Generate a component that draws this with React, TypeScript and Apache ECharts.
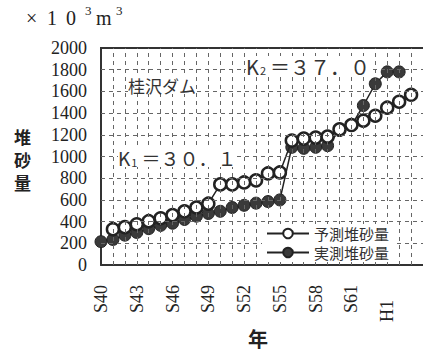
import React, { useEffect, useRef } from "react";
import * as echarts from "echarts";

const years = [
  "S40", "S41", "S42", "S43", "S44", "S45", "S46", "S47", "S48", "S49",
  "S50", "S51", "S52", "S53", "S54", "S55", "S56", "S57", "S58", "S59",
  "S60", "S61", "S62", "S63", "H1", "H2", "H3",
];
const predicted = [
  null, 330, 349, 376, 404, 431, 460, 495, 530, 565,
  743, 743, 761, 780, 844, 853, 1147, 1165, 1174, 1183,
  1250, 1290, 1330, 1376, 1450, 1505, 1569,
];
const measured = [
  215, 235, 275, 300, 335, 365, 385, 420, 450, 475,
  495, 530, 550, 570, 585, 600, 1085, 1075, 1085, 1100,
  1240, 1285, 1470, 1670, 1780, 1780, null,
];
const yTicks = [200, 400, 600, 800, 1000, 1200, 1400, 1600, 1800];
const seriesNames = ["予測堆砂量", "実測堆砂量"];

const SERIF = "'Liberation Serif', 'DejaVu Serif', serif";
const JP = "'Noto Sans CJK JP', sans-serif";

export default function App() {
  const ref = useRef<HTMLDivElement>(null);
  useEffect(() => {
    if (!ref.current) return;
    const chart = echarts.init(ref.current, null, { renderer: "svg" });
    const toPairs = (arr: (number | null)[]) =>
      arr.map((v, i) => [i, v]).filter((p) => p[1] !== null);
    const gridMarks = [
      ...yTicks.map((v) => ({ yAxis: v })),
      ...years.map((_, i) => ({ xAxis: i })).filter((d) => d.xAxis > 0),
    ];
    chart.setOption({
      animation: false,
      backgroundColor: "#fff",
      grid: {
        left: 101,
        top: 48,
        bottom: 91,
        width: 330,
        show: false,
      },
      xAxis: {
        type: "value",
        min: 0,
        max: 27,
        interval: 1,
        axisLine: { show: true, onZero: false, lineStyle: { color: "#333", width: 2 } },
        axisTick: { show: false },
        splitLine: { show: false },
        axisLabel: {
          rotate: 90,
          margin: 20,
          color: "#222",
          fontFamily: SERIF,
          fontSize: 18,
          formatter: (v: number) => {
            if (v % 3 !== 0 || !years[v]) return "";
            return years[v].startsWith("H") ? "{h|" + years[v] + "}" : years[v];
          },
          rich: {
            h: {
              fontFamily: SERIF,
              fontSize: 18,
              color: "#222",
              padding: [0, 15, 0, 0],
            },
          },
        },
      },
      yAxis: {
        type: "value",
        min: 0,
        max: 2000,
        interval: 200,
        axisLine: { show: true, lineStyle: { color: "#333", width: 2 } },
        axisTick: { show: false },
        splitLine: { show: false },
        axisLabel: {
          margin: 14,
          color: "#222",
          fontFamily: SERIF,
          fontSize: 18,
          formatter: (v: number) => String(v),
        },
      },
      legend: {
        data: seriesNames,
        orient: "vertical",
        left: 262,
        top: 224,
        z: 20,
        itemWidth: 42,
        itemHeight: 12,
        itemGap: 4,
        padding: [2, 4],
        backgroundColor: "#fff",
        textStyle: { fontFamily: JP, fontSize: 15, color: "#333" },
      },
      series: [
        {
          name: "grid",
          type: "line",
          data: [],
          z: 1,
          silent: true,
          markLine: {
            silent: true,
            symbol: ["none", "none"],
            label: { show: false },
            lineStyle: { color: "#666", width: 1, type: [4, 4], opacity: 1 },
            emphasis: { disabled: true },
            data: gridMarks,
          },
        },
        {
          name: seriesNames[1],
          type: "line",
          data: toPairs(measured),
          symbol: "circle",
          symbolSize: 12,
          lineStyle: { color: "#222", width: 1.5 },
          itemStyle: { color: "#3a3a3a", borderColor: "#222", borderWidth: 1 },
          z: 2,
        },
        {
          name: seriesNames[0],
          type: "line",
          data: toPairs(predicted),
          symbol: "circle",
          symbolSize: 12,
          lineStyle: { color: "#222", width: 1.5 },
          itemStyle: { color: "#fff", borderColor: "#222", borderWidth: 2.5 },
          z: 3,
        },
      ],
      graphic: [
        {
          type: "line",
          silent: true,
          shape: { x1: 100, y1: 48, x2: 423, y2: 48 },
          style: { stroke: "#333", lineWidth: 2 },
        },
        { type: "text", left: 26, top: 8, style: { text: "×", font: "20px " + SERIF, fill: "#222" } },
        { type: "text", left: 47, top: 8, style: { text: "1", font: "20px " + SERIF, fill: "#222" } },
        { type: "text", left: 66, top: 8, style: { text: "0", font: "20px " + SERIF, fill: "#222" } },
        { type: "text", left: 85, top: 4, style: { text: "3", font: "13px " + SERIF, fill: "#222" } },
        { type: "text", left: 96, top: 8, style: { text: "m", font: "20px " + SERIF, fill: "#222" } },
        { type: "text", left: 116, top: 4, style: { text: "3", font: "13px " + SERIF, fill: "#222" } },
        { type: "text", left: 14, top: 128, style: { text: "堆", font: "bold 17px " + JP, fill: "#222" } },
        { type: "text", left: 14, top: 151, style: { text: "砂", font: "bold 17px " + JP, fill: "#222" } },
        { type: "text", left: 14, top: 174, style: { text: "量", font: "bold 17px " + JP, fill: "#222" } },
        {
          type: "text",
          left: 248,
          top: 328,
          style: { text: "年", font: "bold 20px " + JP, fill: "#222" },
        },
        {
          type: "text",
          left: 128,
          top: 77,
          z: 10,
          style: { text: "桂沢ダム", font: "17px " + JP, fill: "#333", backgroundColor: "#fff" },
        },
        {
          type: "text",
          left: 118,
          top: 148,
          z: 10,
          style: {
            text: "{k|K}{s|1}{n|＝３０．１}",
            backgroundColor: "#fff",
            rich: {
              k: { font: "19px " + JP, fill: "#333" },
              s: { font: "11px " + JP, fill: "#333", padding: [8, 4, 0, 1] },
              n: { font: "19px " + JP, fill: "#333" },
            },
          },
        },
        {
          type: "text",
          left: 246,
          top: 56,
          z: 10,
          style: {
            text: "{k|K}{s|2}{n|＝３７．０}",
            backgroundColor: "#fff",
            rich: {
              k: { font: "20px " + JP, fill: "#333" },
              s: { font: "11px " + JP, fill: "#333", padding: [8, 4, 0, 1] },
              n: { font: "20px " + JP, fill: "#333" },
            },
          },
        },
      ],
    });
    return () => chart.dispose();
  }, []);
  return (
    <div
      ref={ref}
      style={{ position: "fixed", left: 0, top: 0, width: 423, height: 356 }}
    />
  );
}
